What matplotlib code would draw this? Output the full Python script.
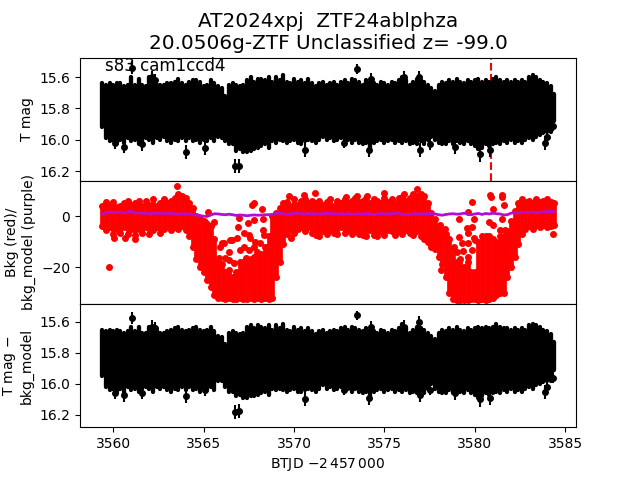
import matplotlib
matplotlib.use('Agg')
import matplotlib.pyplot as plt

# band of points
days = [3559.4, 3559.6, 3559.8, 3560.0, 3560.2, 3560.4, 3560.6, 3560.8, 3561.0, 3561.2,
        3561.4, 3561.6, 3561.8, 3562.0, 3562.2, 3562.4, 3562.6, 3562.8, 3563.0, 3563.2,
        3563.4, 3563.6, 3563.8, 3564.0, 3564.2, 3564.4, 3564.6, 3564.8, 3565.0, 3565.2,
        3565.4, 3565.6, 3565.8, 3566.0, 3566.2, 3566.4, 3566.6, 3566.8, 3567.0, 3567.2,
        3567.4, 3567.6, 3567.8, 3568.0, 3568.2, 3568.4, 3568.6, 3568.8, 3569.0, 3569.2,
        3569.4, 3569.6, 3569.8, 3570.0, 3570.2, 3570.4, 3570.6, 3570.8, 3571.0, 3571.2,
        3571.4, 3571.6, 3571.8, 3572.0, 3572.2, 3572.4, 3572.6, 3572.8, 3573.0, 3573.2,
        3573.4, 3573.6, 3573.8, 3574.0, 3574.2, 3574.4, 3574.6, 3574.8, 3575.0, 3575.2,
        3575.4, 3575.6, 3575.8, 3576.0, 3576.2, 3576.4, 3576.6, 3576.8, 3577.0, 3577.2,
        3577.4, 3577.6, 3577.8, 3578.0, 3578.2, 3578.4, 3578.6, 3578.8, 3579.0, 3579.2,
        3579.4, 3579.6, 3579.8, 3580.0, 3580.2, 3580.4, 3580.6, 3580.8, 3581.0, 3581.2,
        3581.4, 3581.6, 3581.8, 3582.0, 3582.2, 3582.4, 3582.6, 3582.8, 3583.0, 3583.2,
        3583.4, 3583.6, 3583.8, 3584.0, 3584.2, 3584.4]

mag_top = [15.64, 15.65, 15.64, 15.65, 15.64, 15.64, 15.66, 15.65, 15.60, 15.65,
           15.61, 15.65, 15.66, 15.60, 15.62, 15.65, 15.65, 15.65, 15.64, 15.64,
           15.63, 15.61, 15.64, 15.65, 15.63, 15.62, 15.62, 15.63, 15.66, 15.65,
           15.62, 15.64, 15.66, 15.67, 15.72, 15.65, 15.64, 15.65, 15.66, 15.65,
           15.62, 15.60, 15.63, 15.61, 15.61, 15.62, 15.60, 15.63, 15.60, 15.62,
           15.59, 15.63, 15.64, 15.61, 15.63, 15.62, 15.64, 15.61, 15.64, 15.66,
           15.64, 15.63, 15.65, 15.64, 15.63, 15.65, 15.63, 15.62, 15.64, 15.61,
           15.62, 15.63, 15.65, 15.62, 15.63, 15.64, 15.65, 15.63, 15.64, 15.65,
           15.63, 15.64, 15.62, 15.60, 15.62, 15.65, 15.63, 15.61, 15.62, 15.63,
           15.65, 15.67, 15.69, 15.65, 15.63, 15.64, 15.62, 15.63, 15.61, 15.63,
           15.64, 15.62, 15.63, 15.62, 15.61, 15.63, 15.62, 15.63, 15.61, 15.60,
           15.62, 15.63, 15.62, 15.63, 15.62, 15.63, 15.62, 15.63, 15.60, 15.59,
           15.60, 15.62, 15.63, 15.64, 15.66, 15.71]
mag_bot = [15.92, 15.99, 16.01, 16.00, 16.02, 16.00, 16.02, 15.99, 16.01, 16.00,
           16.03, 16.01, 15.99, 16.00, 16.02, 15.99, 16.00, 15.98, 16.01, 16.02,
           16.00, 16.01, 15.99, 16.01, 15.99, 16.01, 16.00, 16.02, 16.00, 16.01,
           15.99, 16.01, 15.98, 15.99, 16.01, 16.03, 16.03, 16.07, 16.06, 16.08,
           16.08, 16.07, 16.06, 16.05, 16.04, 16.03, 16.05, 16.01, 16.02, 16.00,
           16.01, 16.02, 16.01, 16.00, 16.02, 16.03, 16.01, 16.00, 16.01, 16.02,
           16.00, 15.98, 16.00, 15.99, 16.01, 16.00, 15.99, 16.01, 16.00, 16.02,
           16.00, 16.02, 16.03, 16.02, 16.05, 16.02, 16.01, 16.00, 16.02, 16.01,
           16.00, 16.02, 16.01, 16.02, 16.01, 16.03, 16.02, 16.03, 16.01, 16.03,
           16.00, 15.98, 16.00, 16.02, 16.03, 16.03, 16.01, 16.03, 16.01, 16.02,
           16.03, 16.01, 16.03, 16.04, 16.06, 16.05, 16.03, 16.04, 16.03, 16.02,
           16.03, 16.01, 16.02, 16.00, 16.02, 16.01, 16.02, 16.00, 15.99, 16.00,
           15.98, 15.97, 15.96, 15.95, 15.95, 15.88]

sub_top = [15.65, 15.66, 15.65, 15.66, 15.65, 15.66, 15.67, 15.66, 15.63, 15.66,
           15.63, 15.67, 15.67, 15.63, 15.64, 15.66, 15.67, 15.67, 15.66, 15.65,
           15.64, 15.63, 15.65, 15.66, 15.65, 15.64, 15.63, 15.65, 15.66, 15.65,
           15.63, 15.66, 15.69, 15.70, 15.74, 15.67, 15.66, 15.67, 15.68, 15.67,
           15.63, 15.62, 15.64, 15.62, 15.63, 15.64, 15.62, 15.65, 15.62, 15.64,
           15.61, 15.65, 15.66, 15.63, 15.65, 15.64, 15.66, 15.64, 15.66, 15.68,
           15.66, 15.65, 15.67, 15.66, 15.65, 15.66, 15.64, 15.63, 15.65, 15.63,
           15.64, 15.65, 15.66, 15.64, 15.65, 15.66, 15.67, 15.65, 15.66, 15.67,
           15.65, 15.66, 15.64, 15.61, 15.63, 15.67, 15.65, 15.63, 15.64, 15.65,
           15.67, 15.69, 15.71, 15.67, 15.65, 15.66, 15.64, 15.65, 15.63, 15.65,
           15.66, 15.64, 15.65, 15.64, 15.63, 15.64, 15.63, 15.64, 15.63, 15.61,
           15.63, 15.64, 15.64, 15.65, 15.64, 15.65, 15.64, 15.65, 15.62, 15.61,
           15.62, 15.63, 15.65, 15.66, 15.68, 15.73]
sub_bot = [15.95, 16.02, 16.04, 16.03, 16.05, 16.03, 16.05, 16.02, 16.04, 16.03,
           16.05, 16.03, 16.02, 16.03, 16.05, 16.02, 16.03, 16.02, 16.04, 16.05,
           16.03, 16.04, 16.02, 16.04, 16.02, 16.04, 16.03, 16.05, 16.03, 16.04,
           16.02, 16.04, 15.98, 15.98, 16.02, 16.05, 16.05, 16.08, 16.07, 16.09,
           16.09, 16.08, 16.08, 16.07, 16.06, 16.05, 16.07, 16.03, 16.04, 16.03,
           16.04, 16.05, 16.04, 16.03, 16.05, 16.05, 16.04, 16.03, 16.04, 16.05,
           16.03, 16.01, 16.03, 16.02, 16.04, 16.03, 16.02, 16.04, 16.03, 16.05,
           16.03, 16.05, 16.06, 16.05, 16.08, 16.05, 16.04, 16.03, 16.05, 16.04,
           16.03, 16.05, 16.04, 16.05, 16.04, 16.06, 16.05, 16.06, 16.04, 16.06,
           16.03, 16.00, 16.03, 16.05, 16.06, 16.06, 16.04, 16.06, 16.04, 16.05,
           16.06, 16.04, 16.06, 16.07, 16.09, 16.08, 16.06, 16.07, 16.06, 16.05,
           16.06, 16.04, 16.05, 16.03, 16.05, 16.04, 16.05, 16.03, 16.02, 16.03,
           16.01, 16.00, 15.99, 15.98, 15.98, 15.91]

bkg_top = [4, 5.5, 4.5, 5.5, 3.5, 4, 5, 6, 4.5, 5,
           6, 4, 6, 4.5, 6.5, 4, 5, 6.5, 5, 6,
           7, 8.5, 8, 7, 5, 3, 0, -1, -2, -3,
           -4, -9, -18, -19, -22, -21, -24, -22, -18, -18,
           -19, -17, -16, -15, -15, -12, -8, 0, 1, 3,
           5, 5.5, 4, 6.5, 4.5, 6, 6.5, 5, 6, 5,
           6, 4.5, 5.5, 6.5, 4, 6, 5, 6.5, 5, 6,
           7, 5.5, 6, 7, 5, 6.5, 6, 5, 7, 5.5,
           6.5, 5, 7, 7.5, 6, 7, 8.5, 8, 8.5, 8,
           5, 1, -1, -4, -6, -7, -9, -13, -18, -17,
           -20, -18, -22, -22, -10, -8, -8, -8, -9, -10,
           -8, -8, -6, -2, 2, 5, 6.5, 5.5, 6, 5,
           6.5, 5.5, 6, 6.5, 5.5, 5]
bkg_bot = [-4, -5.5, -4.5, -7, -5, -6.5, -4.5, -7, -5, -7.5,
           -5, -6.5, -4.5, -7, -5.5, -4.5, -6.5, -5, -4, -5.5,
           -4.5, -5, -4, -5.5, -8, -12, -17, -20, -22, -25,
           -28, -31, -32, -32, -32.5, -32, -32.5, -32.5, -32, -32.5,
           -32.5, -32, -32.5, -32, -32.5, -32, -32.5, -32, -24, -18,
           -11, -7, -5, -6.5, -5, -4.5, -6, -4.5, -6.5, -7.5,
           -8, -6, -7, -5.5, -6.5, -7, -4.5, -6.5, -5.5, -7,
           -6, -7, -7.5, -8, -5.5, -7.5, -8, -6, -7.5, -5.5,
           -6, -7.5, -6, -7, -5.5, -6.5, -7.5, -6, -8, -9,
           -10, -12, -13, -16, -19, -24, -30, -32.5, -33, -33,
           -33, -33, -32.5, -32.5, -33, -32.5, -33, -32.5, -32, -31,
           -30, -30, -24, -20, -16, -11, -7, -5, -4, -5,
           -3.5, -4.5, -3.5, -4.5, -4, -3.5]
bkg_model = [0.8, 1.2, 1.5, 1.3, 1.6, 1.3, 1.2, 1.6, 1.9, 1.1,
             1.3, 1.0, 1.2, 0.8, 1.2, 1.0, 1.1, 0.9, 1.2, 1.0,
             0.8, 0.7, 0.9, 0.8, 0.8, 0.6, 0.4, 0.2, -0.1, -0.2,
             0.4, 0.9, 0.8, 0.6, 0.5, 0.7, 0.5, 0.2, 0.4, 0.3,
             0.1, 0.3, 0.4, 0.3, 0.4, 0.5, 0.5, 0.6, 1.0, 1.2,
             0.9, 0.6, 0.8, 1.0, 1.3, 0.9, 0.7, 1.0, 0.8, 0.9,
             0.7, 0.9, 1.1, 1.0, 0.9, 0.8, 0.9, 0.7, 0.9, 0.6,
             0.8, 0.9, 0.7, 1.0, 0.8, 0.5, 0.8, 1.0, 0.7, 0.9,
             0.8, 1.1, 1.2, 0.5, 0.7, 0.6, 0.8, 0.9, 0.7, 0.9,
             0.9, 1.0, 0.8, 0.5, 0.3, 0.6, 0.8, 0.9, 0.7, 0.8,
             1.1, 0.8, 0.5, 0.8, 1.0, 0.6, 1.0, 0.8, 1.1, 0.9,
             0.8, 0.4, 0.5, 1.1, 1.3, 1.2, 1.4, 1.5, 1.3, 1.6,
             1.2, 1.5, 1.6, 1.7, 1.8, 1.8]

# stray points sitting outside the band
out_days = [3561.03, 3562.14, 3562.3, 3560.1, 3560.57, 3561.6, 3564.04, 3565.05, 3566.75, 3566.93,
            3570.62, 3573.51, 3574.27, 3576.11, 3576.89, 3572.78, 3574.16, 3576.98, 3577.53, 3578.92,
            3580.3, 3580.85, 3584.0, 3583.9, 3584.3]
out_mag = [15.54, 15.60, 15.62, 16.02, 16.045, 16.03, 16.08, 16.055, 16.17, 16.165,
           16.065, 15.55, 15.61, 15.60, 15.60, 16.02, 16.065, 16.065, 16.03, 16.045,
           16.09, 16.065, 15.98, 16.02, 15.91]
out_sub = [15.575, 15.63, 15.64, 16.06, 16.075, 16.06, 16.08, 16.04, 16.18, 16.175,
           16.10, 15.557, 15.63, 15.63, 15.60, 16.037, 16.09, 16.075, 16.04, 16.06,
           16.10, 16.09, 16.02, 16.05, 15.96]
out_err = [0.04, 0.04, 0.04, 0.04, 0.04, 0.04, 0.045, 0.04, 0.045, 0.045,
           0.045, 0.03, 0.035, 0.04, 0.04, 0.035, 0.045, 0.045, 0.035, 0.045,
           0.05, 0.045, 0.045, 0.045, 0.035]

bkg_days = [3559.74, 3560.02, 3560.63, 3561.18, 3563.52, 3565.22, 3565.55, 3565.14, 3565.09, 3566.93,
            3566.88, 3567.21, 3567.45, 3567.76, 3567.67, 3567.76, 3568.22, 3568.28, 3569.75, 3570.53,
            3571.14, 3569.83, 3566.01, 3566.47, 3566.84, 3568.31, 3568.35, 3567.85, 3567.49, 3575.0,
            3574.03, 3572.88, 3573.51, 3576.79, 3576.09, 3580.85, 3580.89, 3581.53, 3581.53, 3581.62,
            3579.84, 3581.03, 3579.65, 3579.1, 3579.98, 3581.53, 3580.81, 3581.03, 3578.36, 3578.08,
            3579.84, 3579.56, 3579.65, 3579.1, 3578.12, 3584.3, 3581.4, 3581.68, 3579.93, 3579.28,
            3565.92, 3566.14, 3566.42, 3566.56, 3567.02, 3567.21, 3567.34, 3566.38, 3566.66, 3566.19,
            3565.83, 3567.58, 3568.13, 3567.95, 3568.5, 3567.49, 3567.76, 3579.37, 3579.6, 3579.84,
            3579.65, 3580.02, 3579.0, 3578.86]
bkg_vals = [-20.1, -8.8, -8.8, -9.2, 11.8, 1.7, -2.5, -4.2, -2.2, -0.9,
            -4.2, -6.8, -2.9, -1.6, 4.3, 5.2, 2.6, -1.3, 7.8, 8.2,
            8.9, -8.8, -10.7, -9.4, -8.8, -5.5, -7.5, -10.1, -7.5, 8.9,
            7.8, 7.3, 7.8, 10.5, 8.6, 8.2, 7.3, 8.2, 7.3, 4.3,
            5.6, 2.6, 1.7, -1.3, -1.3, -1.3, -2.2, -3.5, -5.2, -3.5,
            -4.2, -4.8, -6.8, -8.1, -21.2, -7.2, -5.5, -5.5, -8.8, -10.7,
            -12.0, -10.7, -14.0, -9.4, -13.3, -12.0, -16.6, -17.2, -18.6, -16.6,
            -16.6, -8.8, -10.7, -14.0, -12.0, -13.3, -12.0, -13.9, -16.0, -13.3,
            -10.7, -9.4, -14.0, -12.0]

flare_day = 3580.9

fig, axs = plt.subplots(3, 1, sharex=True)
plt.subplots_adjust(hspace=0)

# top: light curve
axs[0].axvline(flare_day, color='r', ls='--', lw=1.5, zorder=1)
axs[0].vlines(days, mag_top, mag_bot, color='k', lw=3.1, capstyle='round', zorder=2)
axs[0].errorbar(out_days, out_mag, yerr=out_err, fmt='k.', ms=8, elinewidth=1.5, zorder=3)
axs[0].set_ylim(16.262, 15.476)
axs[0].set_yticks([15.6, 15.8, 16.0, 16.2])
axs[0].set_ylabel('T mag')
axs[0].text(3559.55, 15.56, 's83 cam1ccd4', fontsize=12)
axs[0].set_title('AT2024xpj  ZTF24ablphza\n20.0506g-ZTF Unclassified z= -99.0', fontsize=14.4)

# middle: background
axs[1].vlines(days, bkg_top, bkg_bot, color='r', lw=3.4)
axs[1].plot(days, bkg_top, 'r.', ms=8)
axs[1].plot(days, bkg_bot, 'r.', ms=8)
axs[1].plot(bkg_days, bkg_vals, 'r.', ms=8)
axs[1].plot(days, bkg_model, color='#b010d0', lw=2)
axs[1].set_ylim(-34.5, 13.8)
axs[1].set_yticks([0, -20])
axs[1].set_ylabel('Bkg (red)/\nbkg_model (purple)')

# bottom: background subtracted
axs[2].vlines(days, sub_top, sub_bot, color='k', lw=3.1, capstyle='round', zorder=2)
axs[2].errorbar(out_days, out_sub, yerr=out_err, fmt='k.', ms=8, elinewidth=1.5, zorder=3)
axs[2].set_ylim(16.28, 15.484)
axs[2].set_yticks([15.6, 15.8, 16.0, 16.2])
axs[2].set_ylabel('T mag $-$\nbkg_model')
axs[2].set_xlim(3558.16, 3585.6)
axs[2].set_xticks([3560, 3565, 3570, 3575, 3580, 3585])
axs[2].set_xlabel(r'BTJD $-2\,457\,000$')

plt.savefig('out.png', dpi=100)
